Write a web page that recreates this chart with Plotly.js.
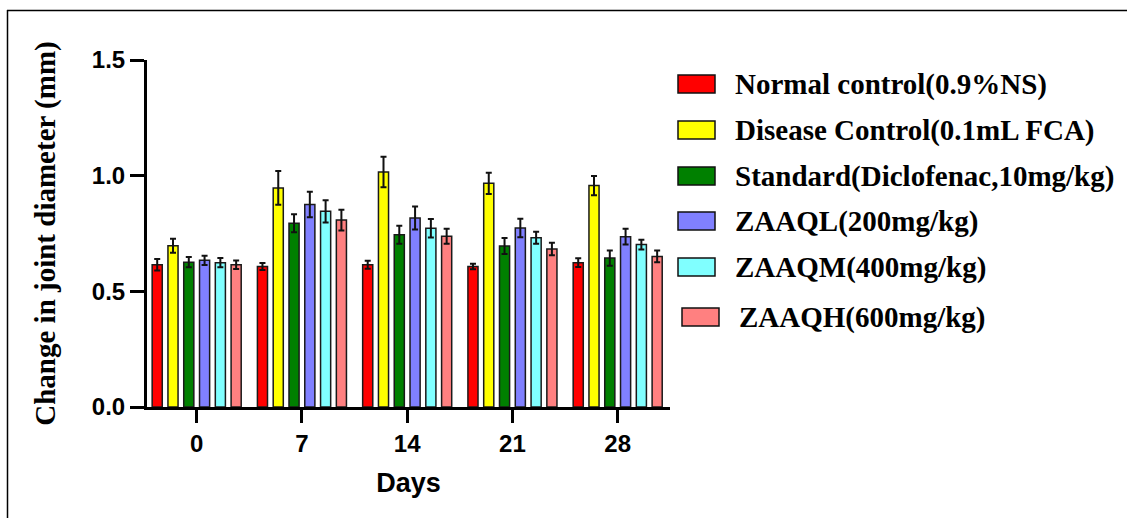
<!DOCTYPE html>
<html>
<head>
<meta charset="utf-8">
<script src="https://cdn.plot.ly/plotly-3.0.1.min.js"></script>
<style>
html,body{margin:0;padding:0;background:#fff;}
#chart{width:1127px;height:518px;}
</style>
</head>
<body>
<div id="chart"></div>
<script>
// ---- data ----
var days = ['0', '7', '14', '21', '28'];
var groupNames = [
  'Normal control(0.9%NS)',
  'Disease Control(0.1mL FCA)',
  'Standard(Diclofenac,10mg/kg)',
  'ZAAQL(200mg/kg)',
  'ZAAQM(400mg/kg)',
  'ZAAQH(600mg/kg)'
];
var normalControl   = [0.615, 0.607, 0.615, 0.607, 0.624];
var diseaseControl  = [0.697, 0.947, 1.016, 0.967, 0.957];
var standardDiclo   = [0.626, 0.794, 0.745, 0.696, 0.644];
var zaaqL           = [0.634, 0.875, 0.817, 0.774, 0.736];
var zaaqM           = [0.624, 0.846, 0.773, 0.732, 0.702];
var zaaqH           = [0.615, 0.808, 0.738, 0.683, 0.651];

var errNormal   = [0.025, 0.015, 0.017, 0.012, 0.019];
var errDisease  = [0.030, 0.073, 0.066, 0.046, 0.042];
var errStandard = [0.022, 0.039, 0.039, 0.035, 0.033];
var errL        = [0.020, 0.055, 0.050, 0.040, 0.034];
var errM        = [0.020, 0.048, 0.040, 0.026, 0.021];
var errH        = [0.018, 0.045, 0.032, 0.027, 0.025];

var colors = ['#FF0000', '#FFFF00', '#008000', '#8080FF', '#80FFFF', '#FF8080'];

var seriesVals = [normalControl, diseaseControl, standardDiclo, zaaqL, zaaqM, zaaqH];
var seriesErr  = [errNormal, errDisease, errStandard, errL, errM, errH];

// ---- geometry helpers (pixel -> paper) ----
var W = 1127, H = 518;
var mL = 147, mR = 457, mT = 60, mB = 111;
var pw = W - mL - mR, ph = H - mT - mB;
function px(x){ return (x - mL) / pw; }
function py(y){ return (H - mB - y) / ph; }

var traces = seriesVals.map(function(v, i){
  return {
    type: 'bar',
    name: groupNames[i],
    x: days,
    y: v,
    marker: {color: colors[i], line: {color: '#1a1a1a', width: 1.5}},
    error_y: {type: 'data', array: seriesErr[i], visible: true, color: '#111', thickness: 2, width: 3},
    showlegend: false,
    hoverinfo: 'x+y+name'
  };
});

// custom legend
var legendY = [84, 130, 176, 221, 267, 317];
var swatchX0 = [678, 678, 678, 678, 678, 682];
var textX = [733, 733, 733, 733, 733, 737];
var shapes = [];
var annotations = [];
groupNames.forEach(function(n, i){
  shapes.push({
    type: 'rect', xref: 'paper', yref: 'paper',
    x0: px(swatchX0[i]), x1: px(swatchX0[i] + 37),
    y0: py(legendY[i] - 9), y1: py(legendY[i] + 9),
    fillcolor: colors[i], line: {color: '#111', width: 1.5}
  });
  annotations.push({
    xref: 'paper', yref: 'paper', x: px(textX[i]), y: py(legendY[i]),
    xanchor: 'left', yanchor: 'middle', showarrow: false, text: n,
    font: {family: 'Liberation Serif, Times New Roman, serif', size: 29, color: '#000', weight: 'bold'}
  });
});
// frame lines (top and left)
shapes.push({type: 'line', xref: 'paper', yref: 'paper', x0: px(7), x1: px(W + 5), y0: py(10.5), y1: py(10.5), line: {color: '#000', width: 1.5}});
shapes.push({type: 'line', xref: 'paper', yref: 'paper', x0: px(7.5), x1: px(7.5), y0: py(10), y1: py(H + 5), line: {color: '#000', width: 1.5}});

var layout = {
  width: W, height: H,
  margin: {l: mL, r: mR, t: mT, b: mB, pad: 0},
  paper_bgcolor: '#fff', plot_bgcolor: '#fff',
  barmode: 'group', bargap: 0.10, bargroupgap: 0.36,
  xaxis: {
    type: 'category', range: [-0.472, 4.497],
    showline: true, linecolor: '#000', linewidth: 3,
    ticks: 'outside', ticklen: 13, tickwidth: 3, tickcolor: '#000',
    tickfont: {family: 'Liberation Sans, Arial, sans-serif', size: 24, color: '#000', weight: 'bold'},
    showgrid: false, zeroline: false,
    title: {text: 'Days', standoff: 18, font: {family: 'Liberation Sans, Arial, sans-serif', size: 27, color: '#000', weight: 'bold'}}
  },
  yaxis: {
    range: [0, 1.5], dtick: 0.5, tick0: 0, tickformat: '.1f',
    showline: true, linecolor: '#000', linewidth: 3,
    ticks: 'outside', ticklen: 14, tickwidth: 3, tickcolor: '#000',
    tickfont: {family: 'Liberation Sans, Arial, sans-serif', size: 24, color: '#000', weight: 'bold'},
    showgrid: false, zeroline: false,
    title: {text: 'Change in joint diameter (mm)', standoff: 28, font: {family: 'Liberation Serif, Times New Roman, serif', size: 29, color: '#000', weight: 'bold'}}
  },
  shapes: shapes,
  annotations: annotations
};

Plotly.newPlot('chart', traces, layout, {displayModeBar: false, responsive: false});
</script>
</body>
</html>
